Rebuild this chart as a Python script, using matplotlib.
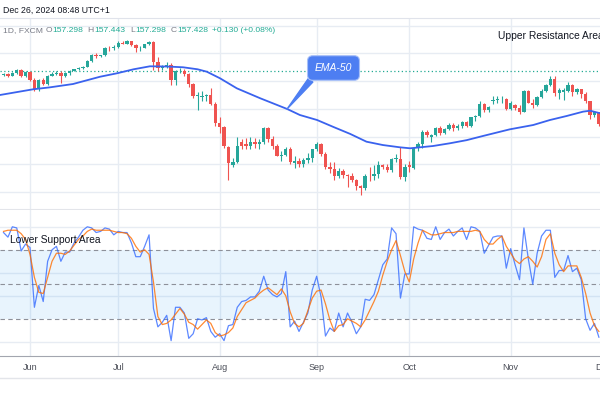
import matplotlib
matplotlib.use("Agg")
import matplotlib.pyplot as plt
import numpy as np
from matplotlib.lines import Line2D

plt.rcParams['font.family'] = ['Liberation Sans', 'DejaVu Sans']

# daily USD/JPY bars, May 24 2024 -> Nov 29 2024 (bar 0 = Jun 3)
opens = [156.9, 157.0, 156.8, 157.2, 157.6, 156.8,
         157.3, 156.1, 154.8, 156.1, 155.6, 156.7, 157.0, 157.2, 156.7, 157.1, 157.4, 157.7, 157.9, 158.1, 158.9, 159.8, 159.6, 159.7, 160.8, 160.7,
         160.9, 161.5, 161.4, 161.7, 161.2, 160.7, 160.8, 161.3, 161.6, 158.8, 157.9, 158.1, 158.3, 156.2, 157.4, 157.5, 157.0, 155.6, 153.9, 153.7, 153.8, 154.0, 152.7,
         150.0, 149.4, 146.5, 143.9, 144.3, 147.3, 146.9, 146.6, 147.2, 146.9, 147.3, 149.3, 147.6, 146.6, 145.2, 145.3, 146.3, 144.2, 144.5, 144.0, 144.6, 145.0,
         146.2, 147.0, 145.5, 143.7, 143.4, 142.3, 143.1, 142.5, 142.4, 141.8, 140.9, 140.6, 142.4, 142.3, 142.6, 143.9, 143.6, 143.2, 144.8, 144.8, 142.2,
         143.9, 143.5, 146.4, 146.9, 148.7, 147.9, 148.2, 149.3, 148.6, 149.1, 149.7, 149.2, 149.6, 150.1, 149.5, 150.8, 151.0, 152.7, 151.8, 153.2, 153.3, 153.4, 153.4,
         152.0, 152.5, 152.1, 151.6, 154.6, 152.9, 152.6, 153.7, 154.6, 155.5, 156.3, 154.3, 154.5, 154.6, 155.4, 154.5, 154.8, 154.2, 153.1, 151.1, 151.5]
highs = [157.2, 157.1, 157.3, 157.8, 157.7, 157.4,
         157.4, 156.4, 156.3, 156.5, 156.9, 157.3, 157.4, 157.4, 157.3, 157.6, 157.8, 158.0, 158.2, 159.0, 159.9, 160.0, 159.8, 160.9, 161.0, 161.2,
         161.7, 161.7, 161.95, 161.8, 161.3, 161.1, 161.4, 161.8, 161.7, 159.4, 158.3, 158.8, 158.6, 157.6, 157.9, 157.7, 157.2, 155.7, 154.4, 154.6, 154.2, 155.0, 153.0,
         150.9, 149.6, 146.6, 145.0, 148.0, 147.6, 147.8, 148.0, 147.8, 147.6, 149.4, 149.4, 148.1, 146.9, 146.0, 146.5, 146.5, 145.2, 144.9, 145.0, 145.6, 146.3,
         147.2, 147.1, 145.8, 144.3, 144.4, 143.5, 143.3, 142.7, 142.8, 141.9, 141.0, 142.6, 143.7, 143.9, 144.5, 144.1, 144.1, 144.9, 145.5, 146.5, 144.1,
         144.5, 146.5, 147.2, 149.0, 149.0, 148.4, 149.4, 149.5, 149.2, 149.9, 149.9, 149.8, 150.3, 150.3, 150.9, 151.1, 153.1, 152.8, 152.4, 153.9, 153.9, 153.9, 153.5,
         153.1, 152.7, 152.5, 154.7, 154.7, 153.4, 153.8, 154.8, 155.6, 156.7, 156.8, 155.0, 155.0, 155.9, 155.6, 155.0, 154.9, 154.4, 153.2, 151.7, 151.6]
lows = [156.7, 156.6, 156.7, 157.0, 156.6, 156.6,
        156.0, 154.6, 154.6, 155.4, 155.5, 156.7, 156.9, 155.7, 156.6, 156.9, 157.4, 157.6, 157.8, 158.0, 158.8, 159.3, 159.4, 159.6, 160.3, 160.5,
        160.8, 161.3, 161.3, 161.1, 160.2, 160.3, 160.7, 161.2, 157.6, 157.4, 157.6, 157.9, 155.4, 155.4, 157.2, 156.8, 155.2, 153.5, 151.9, 153.2, 153.1, 152.5, 149.6,
        148.5, 146.4, 141.7, 143.6, 144.2, 146.2, 146.3, 146.3, 146.4, 146.3, 146.9, 147.3, 146.2, 145.2, 144.5, 145.2, 144.1, 143.5, 143.7, 143.7, 144.2, 144.4,
        146.0, 145.2, 143.4, 142.8, 141.8, 142.0, 142.1, 140.7, 141.5, 140.3, 139.6, 140.4, 141.6, 141.8, 142.0, 143.3, 142.9, 142.9, 144.3, 141.9, 141.6,
        142.9, 143.4, 145.9, 146.4, 147.9, 147.3, 148.1, 148.3, 148.4, 149.0, 148.8, 149.0, 149.3, 149.4, 149.4, 150.2, 150.9, 151.6, 151.6, 152.7, 152.8, 152.9, 151.8,
        151.8, 151.8, 151.3, 151.5, 152.8, 152.2, 152.4, 153.5, 154.4, 155.3, 153.8, 153.4, 153.3, 154.4, 153.9, 154.1, 153.5, 152.9, 150.5, 150.9, 149.5]
closes = [157.0, 156.8, 157.2, 157.6, 156.8, 157.3,
          156.1, 154.8, 156.1, 155.6, 156.7, 157.0, 157.2, 156.7, 157.1, 157.4, 157.7, 157.9, 158.1, 158.9, 159.8, 159.6, 159.7, 160.8, 160.7, 160.9,
          161.5, 161.4, 161.7, 161.2, 160.7, 160.8, 161.3, 161.6, 158.8, 157.9, 158.1, 158.3, 156.2, 157.4, 157.5, 157.0, 155.6, 153.9, 153.9, 153.8, 154.0, 152.7, 150.0,
          149.4, 146.6, 144.2, 144.3, 146.7, 146.6, 146.6, 147.2, 146.9, 147.3, 149.3, 147.6, 146.6, 145.2, 145.3, 146.3, 144.4, 144.5, 144.0, 144.6, 145.0, 146.2,
          147.0, 145.5, 143.7, 143.4, 142.3, 143.1, 142.5, 142.4, 141.8, 140.9, 140.6, 142.4, 142.3, 142.6, 143.9, 143.6, 143.2, 144.8, 144.8, 142.2, 143.6,
          143.6, 146.4, 146.9, 148.7, 148.2, 148.2, 149.3, 148.6, 149.1, 149.7, 149.2, 149.6, 150.1, 149.5, 150.8, 151.0, 152.7, 151.8, 152.3, 153.3, 153.4, 153.4, 152.0,
          152.9, 152.1, 151.6, 154.6, 152.9, 152.6, 153.7, 154.6, 155.5, 156.3, 154.3, 154.7, 154.7, 155.4, 154.5, 154.8, 154.2, 153.1, 151.1, 151.6, 149.8]

# EMA-50 (bar position, value)
ema_pos = [-6.8, 0.7, 4.5, 9.75, 15.9, 19.7, 23.5, 27.2, 31, 34.7, 38, 40.1, 43.1, 46.9, 52.2, 58.3, 61.2, 65.1,
           68.8, 72.6, 76.3, 80, 83.9, 86.2, 88.4, 91.4, 95.2, 99, 102.7, 108.8, 114.1, 117.9, 121.7, 125.4, 127, 129.3]
ema_val = [154.0, 154.82, 155.1, 155.58, 156.63, 157.12, 157.7, 158.13, 158.1, 157.99, 157.7, 157.35, 156.4, 154.96, 153.53, 151.99, 151.12, 150.4,
           149.4, 148.4, 147.28, 146.8, 146.47, 146.33, 146.47, 146.66, 147.05, 147.5, 148.1, 149.06, 149.68, 150.4, 150.98, 151.6, 151.74, 151.37]

# stochastic %K / %D per bar
stoch_k = [95, 91, 100, 99, 79, 85,
           82, 30, 49, 35, 70, 80, 83, 70, 78, 78, 86, 91, 97, 100, 99, 95, 96, 99, 98, 93,
           96, 95, 95, 86, 74, 74, 83, 93, 29, 13, 17, 23, 1, 30, 30, 25, 3, 7, 20, 19, 21, 9, 4,
           7, 1, 14, 15, 30, 35, 36, 39, 39, 44, 57, 45, 41, 39, 42, 61, 13, 18, 9, 17, 25, 45,
           57, 39, 5, 12, 9, 25, 13, 25, 17, 7, 13, 37, 36, 41, 54, 67, 72, 99, 94, 38, 59,
           59, 100, 98, 97, 90, 89, 100, 89, 95, 98, 92, 96, 99, 89, 100, 99, 96, 77, 84, 91, 92, 92, 64,
           81, 67, 54, 99, 72, 50, 77, 92, 97, 97, 56, 62, 62, 75, 61, 64, 54, 20, 10, 16, 4]
stoch_d = [96, 97, 97, 97, 94, 89,
           76, 56, 43, 42, 56, 70, 77, 77, 76, 79, 84, 89, 92, 96, 98, 97, 97, 97, 97, 96,
           95, 95, 94, 90, 83, 78, 80, 76, 52, 22, 15, 16, 19, 24, 29, 24, 17, 15, 11, 15, 19, 16, 8,
           5, 6, 8, 12, 22, 28, 34, 36, 38, 42, 45, 47, 44, 41, 46, 40, 26, 16, 13, 16, 27, 38,
           44, 45, 33, 19, 9, 14, 15, 20, 18, 16, 13, 19, 27, 35, 44, 58, 70, 80, 88, 75, 61,
           52, 72, 86, 97, 95, 93, 93, 94, 95, 95, 95, 96, 96, 96, 96, 97, 96, 89, 85, 85, 89, 92, 83,
           77, 71, 68, 72, 74, 70, 65, 74, 89, 94, 77, 67, 61, 66, 66, 66, 56, 42, 25, 14, 9]

month_pos = [0, 20, 43, 65, 86, 109]
month_labels = ['Jun', 'Jul', 'Aug', 'Sep', 'Oct', 'Nov']
last_price = 157.428

up_col = '#26a69a'
down_col = '#ef5350'
grid_col = '#e7ecf3'

x = np.arange(len(closes)) - 6
o = np.array(opens); h = np.array(highs); l = np.array(lows); c = np.array(closes)
cols = np.where(c >= o, up_col, down_col)

fig = plt.figure(figsize=(6, 4), dpi=100)
ax = fig.add_axes([0, 1 - 210 / 400, 1, 192 / 400])
osc = fig.add_axes([0, 1 - 356 / 400, 1, 146 / 400], sharex=ax)

for a in (ax, osc):
    for s in a.spines.values():
        s.set_visible(False)
    for m in month_pos:
        a.axvline(m, color=grid_col, lw=1, zorder=0)
ax.spines['top'].set_visible(True)
ax.spines['top'].set_color('#e0e3eb')
ax.spines['bottom'].set_visible(True)
ax.spines['bottom'].set_color('#e3e5ea')
ax.spines['bottom'].set_linewidth(1.5)
osc.spines['bottom'].set_visible(True)
osc.spines['bottom'].set_color('#a3a6af')

# price pane
for lev in [140, 144, 148, 152, 156, 160, 164]:
    ax.axhline(lev, color=grid_col, lw=1, zorder=0)
ax.axhline(last_price, color='#22ab94', lw=0.9, ls=(0, (1, 2)), zorder=1)
ax.vlines(x, l, h, colors=cols, lw=0.8, zorder=2)
ax.bar(x, np.maximum(np.abs(c - o), 0.07), bottom=np.minimum(o, c), width=0.76, color=cols, lw=0, zorder=2)
ax.plot(ema_pos, ema_val, color='#3a62ee', lw=1.3, zorder=3)
ax.set_xlim(-6.8, 129.25)
ax.set_ylim(137.45, 165.08)
ax.set_yticks([])
ax.tick_params(axis='x', length=0, labelbottom=False)

ax.annotate('EMA-50', xy=(58.3, 151.99), xytext=(333.5, 332), textcoords='figure pixels',
            ha='center', va='center', color='white', fontsize=7.5, style='italic', zorder=5,
            bbox=dict(boxstyle='round,pad=0.7,rounding_size=0.5', fc='#4d7ef2', ec='#a8c0f8', lw=0.8),
            arrowprops=dict(arrowstyle='wedge,tail_width=0.55', fc='#4d7ef2', ec='#4d7ef2',
                            shrinkA=0, shrinkB=0, relpos=(0.08, 0.15)))

# stochastic pane
for lev in [0, 40, 60, 100]:
    osc.axhline(lev, color=grid_col, lw=1, zorder=0)
osc.axhspan(20, 80, color='#2196f3', alpha=0.1, lw=0, zorder=0)
for lev in [20, 50, 80]:
    osc.axhline(lev, color='#8d9099', lw=0.8, ls=(0, (4, 3)), zorder=1)
osc.plot(x, stoch_k, color='#2962ff', lw=0.9, alpha=0.75, zorder=2)
osc.plot(x, stoch_d, color='#ff6d00', lw=0.9, alpha=0.8, zorder=3)
osc.set_ylim(-12.35, 114.6)
osc.set_yticks([])
osc.set_xticks(month_pos)
osc.set_xticklabels(month_labels)
osc.tick_params(axis='x', length=0, pad=5, labelsize=6.5, labelcolor='#4a4d57')

# texts
fig.text(603 / 600, 1 - 367 / 400, 'Dec', ha='center', va='center', fontsize=6.5, color='#4a4d57')
fig.add_artist(Line2D([0, 1], [1 - 378 / 400] * 2, transform=fig.transFigure, color='#e3e5ea', lw=1))
fig.text(3 / 600, 1 - 10 / 400, 'Dec 26, 2024 08:48 UTC+1', fontsize=6.3, color='#131722', va='center')
teal = '#22ab94'
grey = '#787b86'
parts = [(3.3, '1D, FXCM', grey), (45.5, 'O', grey), (52, '157.298', teal), (87.3, 'H', grey), (94, '157.443', teal),
         (130, 'L', grey), (135.5, '157.298', teal), (170.7, 'C', grey), (177.3, '157.428', teal), (211.5, '+0.130 (+0.08%)', teal)]
for px, t, col in parts:
    fig.text(px / 600, 1 - 31 / 400, t, fontsize=6.1, color=col, va='center')
fig.text(498 / 600, 1 - 36 / 400, 'Upper Resistance Area', fontsize=7.4, color='#131722', va='center')
fig.text(10 / 600, 1 - 240 / 400, 'Lower Support Area', fontsize=7.4, color='#131722', va='center')

fig.savefig('out.png', dpi=100)
